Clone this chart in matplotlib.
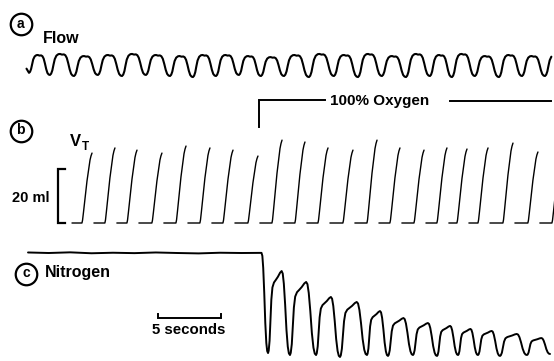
import matplotlib
matplotlib.use("Agg")
import matplotlib.pyplot as plt

plt.rcParams['font.family'] = ['Liberation Sans', 'DejaVu Sans']

# ------------------------------------------------------------------ data
# (a) Flow: trough times (s), trough and peak levels (arbitrary units)
flow_start_t = 0.04
flow_start_v = 0.35
flow_trough_t = [0.24, 1.90, 3.81, 5.71, 7.62, 9.52, 11.43, 13.25, 15.08, 16.90,
                 18.65, 20.48, 22.46, 24.44, 26.35, 28.25, 30.16, 32.06, 33.81,
                 35.63, 37.54, 39.37, 41.19, 43.06]
flow_trough = [0.15, 0.05, 0.0, 0.05, 0.0, 0.05, 0.0, -0.05, 0.0, 0.05, 0.0, 0.0,
               -0.05, 0.0, -0.05, 0.0, -0.05, 0.0, -0.05, 0.0, -0.05, 0.0, 0.0, 0.0]
flow_peak = [1.0, 1.05, 0.95, 1.0, 1.05, 1.0, 0.95, 1.0, 1.0, 0.95, 0.9, 1.0,
             1.05, 1.0, 1.05, 0.95, 1.05, 1.0, 1.05, 0.95, 1.0, 0.95, 1.0]
flow_end_t = 41.75
flow_shape_phase = [0.00, 0.05, 0.10, 0.15, 0.20, 0.27, 0.35, 0.42, 0.50, 0.58,
                    0.64, 0.70, 0.76, 0.82, 0.88, 0.94, 1.00]
flow_shape_frac = [0.00, 0.06, 0.22, 0.50, 0.75, 0.92, 0.99, 1.00, 0.97, 0.98,
                   0.94, 0.82, 0.58, 0.30, 0.10, 0.02, 0.00]

# (b) Tidal volume: time of end-inspiration (s) and volume (ml)
vt_top_t = [5.24, 7.06, 8.81, 10.79, 12.70, 14.60, 16.43, 18.41, 20.32, 22.14,
            23.97, 25.95, 27.86, 29.68, 31.59, 33.41, 35.00, 36.67, 38.65, 40.63,
            42.54]
vt_ml = [25.9, 27.8, 27.0, 25.9, 28.5, 27.8, 27.0, 24.8, 30.7, 30.0, 27.8, 27.0,
         30.7, 27.8, 27.0, 27.8, 27.4, 27.8, 29.6, 26.3, 27.0]
vt_first_flat_t = 3.65
vt_rise_s = 0.8
vt_gap_s = 0.15
vt_rise_phase = [0.00, 0.06, 0.15, 0.50, 0.80, 0.90, 1.00]
vt_rise_frac = [0.00, 0.04, 0.15, 0.60, 0.90, 0.96, 1.00]
vt_scale_ml = 20

# (c) Nitrogen (%): baseline on air, then washout with 100% O2
n2_base_t = [0.16, 1.8, 3.5, 5.2, 6.9, 8.6, 10.3, 12.0, 13.7, 15.4, 17.1, 18.69]
n2_base = [79.4, 79.0, 79.5, 78.8, 79.2, 78.9, 79.4, 79.0, 78.7, 79.2, 79.0, 79.1]
n2_trough_t = [19.21, 20.95, 23.02, 24.92, 27.06, 28.73, 30.71, 32.62, 34.29,
               35.87, 37.62, 39.76, 41.59]
n2_trough = [3.0, 1.5, 1.5, 0.0, 1.5, 0.8, 1.5, 0.8, 1.5, 1.5, 0.8, 1.5, 2.3]
n2_peak = [65.3, 57.0, 45.6, 41.8, 34.9, 29.6, 25.8, 23.6, 21.3, 19.8, 17.5, 14.4]
n2_shape_phase = [0.00, 0.03, 0.07, 0.11, 0.15, 0.20, 0.27, 0.35, 0.45, 0.55,
                  0.62, 0.67, 0.72, 0.78, 0.84, 0.90, 0.95, 1.00]
n2_shape_frac = [0.00, 0.03, 0.15, 0.40, 0.65, 0.80, 0.86, 0.89, 0.93, 0.98,
                 1.00, 0.97, 0.85, 0.60, 0.30, 0.10, 0.02, 0.00]

o2_switch_t = 18.49
o2_label = "100% Oxygen"
scale_bar_t = 10.45
scale_bar_s = 5

# ------------------------------------------------------------------ layout
W, H = 554, 361
PX_PER_S = 12.6
T0_PX = 26

fig = plt.figure(figsize=(W / 100, H / 100), dpi=100)


def tx(px):
    return (px - T0_PX) / PX_PER_S


def panel(v0, py0, v1, py1):
    ax = fig.add_axes([0, 0, 1, 1])
    ax.set_xlim(tx(0), tx(W))
    f0, f1 = 1 - py0 / H, 1 - py1 / H
    s = (v1 - v0) / (f1 - f0)
    ymin = v0 - f0 * s
    ax.set_ylim(ymin, ymin + s)
    ax.axis('off')
    ax.patch.set_alpha(0)
    return ax


def cycles(trough_t, trough_v, peak_v, phase, frac):
    pk = phase[frac.index(max(frac))]
    ts, vs = [], []
    for k in range(len(peak_v)):
        ta, tb = trough_t[k], trough_t[k + 1]
        for p, f in zip(phase, frac):
            if p == 0 and k > 0:
                continue
            base = trough_v[k] if p <= pk else trough_v[k + 1]
            ts.append(ta + p * (tb - ta))
            vs.append(base + f * (peak_v[k] - base))
    return ts, vs


lw_k = dict(color='black', solid_capstyle='round', solid_joinstyle='round')

# (a) flow
axa = panel(0, 76, 1, 55)
ft, fv = cycles(flow_trough_t, flow_trough, flow_peak, flow_shape_phase, flow_shape_frac)
ft = [flow_start_t] + ft
fv = [flow_start_v] + fv
keep = [i for i, t in enumerate(ft) if t <= flow_end_t]
axa.plot([ft[i] for i in keep], [fv[i] for i in keep], lw=1.5, **lw_k)

# (b) tidal volume
axb = panel(0, 223, 20, 169)
prev = None
for k, (tt, v) in enumerate(zip(vt_top_t, vt_ml)):
    r0 = tt - vt_rise_s
    fs = vt_first_flat_t if prev is None else prev + vt_gap_s
    xs = [fs, r0] + [r0 + p * vt_rise_s for p in vt_rise_phase[1:]]
    ys = [0, 0] + [f * v for f in vt_rise_frac[1:]]
    axb.plot(xs, ys, lw=1.0, **lw_k)
    prev = tt
# 20 ml bracket
bt = tx(58)
axb.plot([bt + 0.55, bt, bt, bt + 0.55], [vt_scale_ml, vt_scale_ml, 0, 0],
         lw=1.6, color='black', solid_joinstyle='miter')

# (c) nitrogen
axc = panel(0, 357, 79, 253)
nt, nv = list(n2_base_t), list(n2_base)
# initial washout drop: falling part of the breath shape
pk = n2_shape_phase[n2_shape_frac.index(1.0)]
ta, tb = n2_base_t[-1], n2_trough_t[0]
for p, f in zip(n2_shape_phase, n2_shape_frac):
    if p <= pk:
        continue
    q = (p - pk) / (1 - pk)
    nt.append(ta + q * (tb - ta))
    nv.append(n2_trough[0] + f * (n2_base[-1] - n2_trough[0]))
ct, cv = cycles(n2_trough_t, n2_trough, n2_peak, n2_shape_phase, n2_shape_frac)
nt += ct[1:]
nv += cv[1:]
axc.plot(nt, nv, lw=1.4, **lw_k)

# annotations overlay: x in seconds, y in pixels
ann = panel(0, 0, H, H)
txt = dict(color='black', fontweight='bold')
for (cx, cy, letter) in [(20.5, 24, 'a'), (20.5, 131, 'b'), (26, 273.5, 'c')]:
    ann.plot(tx(cx), cy, 'o', ms=15.5, mfc='none', mec='black', mew=1.6)
    ann.text(tx(cx), cy - 0.5, letter, ha='center', va='center', fontsize=10, **txt)

ann.text(tx(43), 43, 'Flow', ha='left', va='baseline', fontsize=11.5, **txt)
ann.text(tx(70), 145.5, 'V', ha='left', va='baseline', fontsize=12, **txt)
ann.text(tx(82), 149.5, 'T', ha='left', va='baseline', fontsize=8.5, **txt)
ann.text(tx(50), 202.5, '20 ml', ha='right', va='baseline', fontsize=10.5, **txt)
ann.text(tx(45), 276.5, 'Nitrogen', ha='left', va='baseline', fontsize=11.5, **txt)

# oxygen marker
ann.plot([o2_switch_t, o2_switch_t, tx(325)], [127, 100, 100], lw=1.4,
         color='black', solid_joinstyle='miter')
ann.text(tx(330), 104.5, o2_label, ha='left', va='baseline', fontsize=11, **txt)
ann.plot([tx(450), tx(551)], [101, 101], lw=1.4, color='black')

# 5 s scale bar
ann.plot([scale_bar_t, scale_bar_t, scale_bar_t + scale_bar_s, scale_bar_t + scale_bar_s],
         [314, 318, 318, 314], lw=1.4, color='black', solid_joinstyle='miter')
ann.text(scale_bar_t + scale_bar_s / 2, 334.5, f'{scale_bar_s} seconds', ha='center',
         va='baseline', fontsize=10.8, **txt)

fig.savefig('out.png', dpi=100, facecolor='white')
